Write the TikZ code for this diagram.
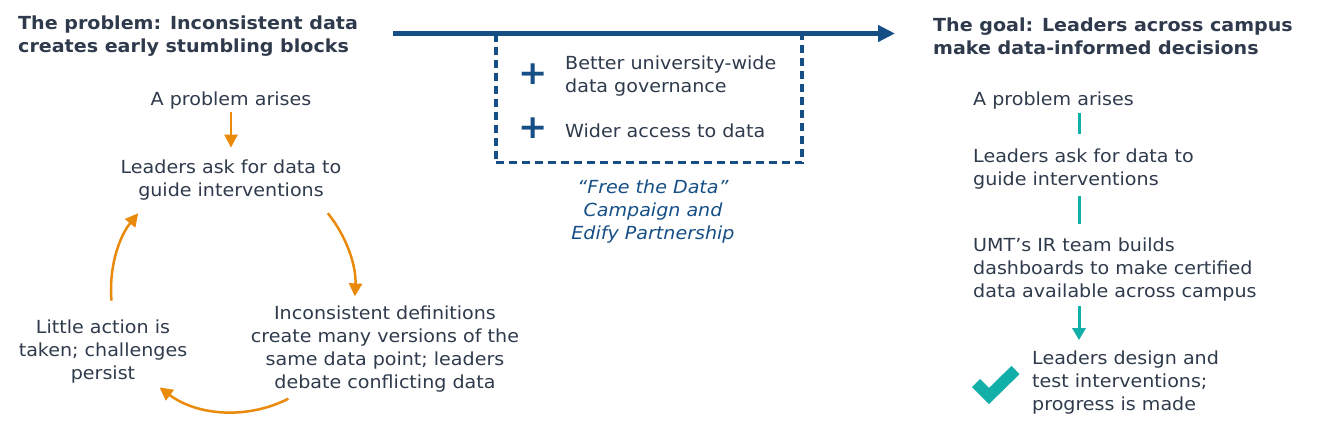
\documentclass[tikz,border=0pt]{standalone}
\usepackage{fontspec}
\setmainfont[FakeStretch=1.06]{DejaVu Sans}
\usetikzlibrary{arrows.meta,calc}
\definecolor{ink}{HTML}{2F3B4C}
\definecolor{navy}{HTML}{164F86}
\definecolor{amber}{HTML}{EA8A0B}
\definecolor{tealc}{HTML}{12AFA9}
\begin{document}
\begin{tikzpicture}[x=1pt, y=-1pt,
	txt/.style={font=\fontsize{18}{23}\selectfont, text=ink, inner sep=0pt, align=center},
	head/.style={txt, font=\fontsize{18}{23}\selectfont\bfseries, align=left, anchor=west},
	goal/.style={txt, align=left, anchor=west},
	cycle/.style={amber, line width=2.5pt, -{Triangle[length=13pt, width=13pt]}},
	flow/.style={tealc, line width=3pt},
	plus/.style={text=navy, font=\fontsize{33}{33}\selectfont\bfseries, inner sep=0pt}
	]
	\useasboundingbox[fill=white] (0,0) rectangle (1322,424);
	\def\r{122}

	% Headings
	\node[head] (probhead) at (18,36) {The problem: Inconsistent data\\creates early stumbling blocks};
	\node[head] (goalhead) at (933,36) {The goal: Leaders across campus\\make data-informed decisions};

	% Left: the loop
	\node[txt] (p1) at (231,101) {A problem arises};
	\node[txt] (p2) at (231,180) {Leaders ask for data to\\guide interventions};
	\node[txt] (p3) at (385,349) {Inconsistent definitions\\create many versions of the\\same data point; leaders\\debate conflicting data};
	\node[txt] (p4) at (103,352) {Little action is\\taken; challenges\\persist};
	\coordinate (cyc) at (233,290);
	\coordinate (a1) at ($(cyc)+(-39:\r)$);
	\coordinate (a2) at ($(cyc)+(63:\r)$);
	\coordinate (a3) at ($(cyc)+(175:\r)$);

	\draw[cycle, shorten <=2pt, shorten >=12pt] (p1) -- (p2);
	\draw[cycle] (a1) arc[start angle=-39, end angle=3, radius=\r];
	\draw[cycle] (a2) arc[start angle=63, end angle=127, radius=\r];
	\draw[cycle] (a3) arc[start angle=175, end angle=219, radius=\r];

	% Middle: campaign box and timeline
	\node[draw=navy, line width=3.5pt, dash pattern=on 8pt off 5pt, minimum width=306pt, minimum height=129pt, inner sep=0pt] (box) at (649,98) {};
	\coordinate (tstart) at (393,33.5);
	\coordinate (tend) at (895,33.5);
	\draw[navy, line width=5pt, -{Triangle[length=17pt, width=16pt]}] (tstart) -- (tend);
	\node[plus] (plusA) at (533,74) {+};
	\node[plus] (plusB) at (533,128) {+};
	\node[goal] (gov) at (565,76.5) {Better university-wide\\data governance};
	\node[goal] (access) at (565,131) {Wider access to data};
	\node[txt, text=navy, font=\fontsize{18}{23}\selectfont\itshape] (camp) at (653,212) {“Free the Data”\\Campaign and\\Edify Partnership};

	% Right: the path to the goal
	\node[goal] (g1) at (973,101) {A problem arises};
	\node[goal] (g2) at (973,169) {Leaders ask for data to\\guide interventions};
	\node[goal] (g3) at (973,270) {UMT’s IR team builds\\dashboards to make certified\\data available across campus};
	\node[goal] (g4) at (1032,383) {Leaders design and\\test interventions;\\progress is made};
	\coordinate (spine) at (1079,0);
	\draw[flow] (g1.south -| spine) ++(0,3) -- ($(g2.north -| spine)+(0,-15)$);
	\draw[flow] (g2.south -| spine) ++(0,7) -- ($(g3.north -| spine)+(0,-14)$);
	\draw[flow, -{Triangle[length=12pt, width=13pt]}] (g3.south -| spine) ++(0,4) -- ($(g4.north -| spine)+(0,-11)$);
	\draw[tealc, line width=11.5pt, line join=miter] (976,383) -- (989,396) -- (1015.5,370);
\end{tikzpicture}
\end{document}
